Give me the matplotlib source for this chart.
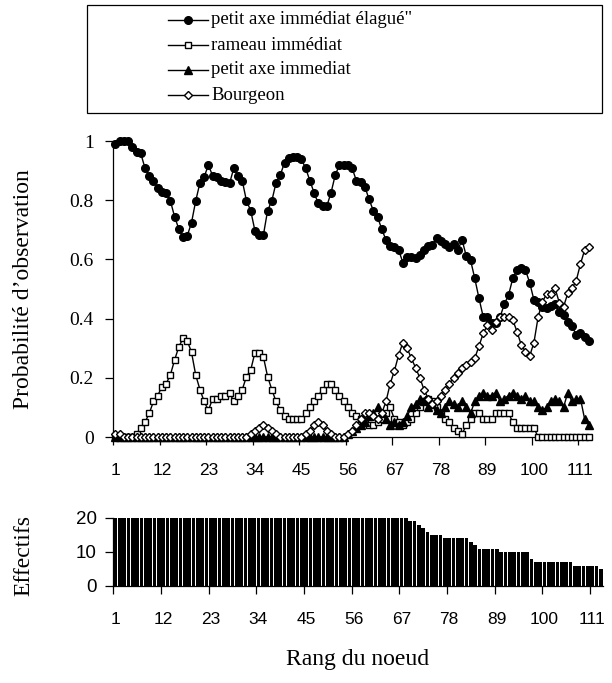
import matplotlib
matplotlib.use("Agg")
import matplotlib.pyplot as plt
from matplotlib.lines import Line2D
from matplotlib.patches import Rectangle

# ---------------- data ----------------
nodes = list(range(1, 114))
tick_labels = ["1", "12", "23", "34", "45", "56", "67", "78", "89", "100", "111"]

elague = [0.99, 1.00, 1.00, 1.00, 0.98, 0.964, 0.958, 0.908, 0.882, 0.866,
          0.840, 0.829, 0.825, 0.798, 0.744, 0.703, 0.675, 0.680, 0.724, 0.798,
          0.859, 0.879, 0.919, 0.882, 0.879, 0.866, 0.862, 0.857, 0.908, 0.882,
          0.866, 0.798, 0.765, 0.697, 0.684, 0.682, 0.765, 0.798, 0.859, 0.885,
          0.927, 0.941, 0.945, 0.947, 0.938, 0.908, 0.866, 0.825, 0.789, 0.780,
          0.780, 0.825, 0.885, 0.919, 0.919, 0.919, 0.908, 0.866, 0.862, 0.846,
          0.803, 0.765, 0.744, 0.702, 0.666, 0.645, 0.641, 0.632, 0.589, 0.609,
          0.607, 0.604, 0.616, 0.632, 0.644, 0.649, 0.671, 0.663, 0.652, 0.643,
          0.652, 0.632, 0.666, 0.611, 0.598, 0.536, 0.469, 0.406, 0.406, 0.384,
          0.386, 0.406, 0.449, 0.480, 0.536, 0.564, 0.570, 0.564, 0.521, 0.463,
          0.457, 0.440, 0.435, 0.443, 0.449, 0.423, 0.412, 0.390, 0.375, 0.345,
          0.350, 0.339, 0.325]

rameau = [0, 0, 0, 0, 0, 0.01, 0.03, 0.05, 0.08, 0.12,
          0.14, 0.17, 0.18, 0.21, 0.26, 0.305, 0.333, 0.325, 0.286, 0.209,
          0.16, 0.12, 0.09, 0.13, 0.13, 0.14, 0.14, 0.15, 0.12, 0.14,
          0.16, 0.204, 0.226, 0.285, 0.285, 0.271, 0.204, 0.16, 0.12, 0.09,
          0.07, 0.06, 0.06, 0.06, 0.06, 0.08, 0.10, 0.12, 0.14, 0.16,
          0.18, 0.18, 0.16, 0.14, 0.12, 0.10, 0.08, 0.07, 0.06, 0.05,
          0.04, 0.04, 0.05, 0.06, 0.08, 0.10, 0.06, 0.05, 0.04, 0.05,
          0.06, 0.08, 0.10, 0.12, 0.13, 0.12, 0.10, 0.08, 0.06, 0.05,
          0.03, 0.02, 0.01, 0.04, 0.06, 0.08, 0.08, 0.06, 0.06, 0.06,
          0.08, 0.08, 0.08, 0.08, 0.05, 0.03, 0.03, 0.03, 0.03, 0.03,
          0, 0, 0, 0, 0, 0, 0, 0, 0, 0,
          0, 0, 0]

petit_axe = [0] * 55 + [
          0.01, 0.02, 0.03, 0.04, 0.05, 0.07, 0.08, 0.10, 0.08, 0.06,
          0.04, 0.05, 0.04, 0.05, 0.07, 0.10, 0.11, 0.13, 0.12, 0.10,
          0.11, 0.09, 0.08, 0.10, 0.12, 0.11, 0.10, 0.12, 0.10, 0.08,
          0.12, 0.14, 0.15, 0.14, 0.14, 0.15, 0.12, 0.13, 0.14, 0.15,
          0.14, 0.13, 0.14, 0.12, 0.12, 0.10, 0.09, 0.10, 0.12, 0.13,
          0.12, 0.10, 0.15, 0.12, 0.13, 0.13, 0.06, 0.04]

bourgeon = [0.01, 0.01] + [0] * 30 + [
          0.01, 0.02, 0.03, 0.04, 0.03, 0.02, 0.01, 0, 0, 0,
          0, 0, 0, 0.01, 0.02, 0.04, 0.05, 0.04, 0.02, 0.01,
          0, 0, 0, 0.01, 0.02, 0.04, 0.06, 0.08, 0.08, 0.07,
          0.06, 0.08, 0.12, 0.18, 0.224, 0.277, 0.319, 0.300, 0.266, 0.234,
          0.20, 0.16, 0.13, 0.11, 0.12, 0.14, 0.16, 0.18, 0.20, 0.217,
          0.232, 0.243, 0.254, 0.266, 0.307, 0.350, 0.378, 0.361, 0.390, 0.404,
          0.406, 0.404, 0.395, 0.356, 0.311, 0.288, 0.274, 0.319, 0.406, 0.457,
          0.483, 0.483, 0.502, 0.454, 0.440, 0.485, 0.502, 0.528, 0.584, 0.632,
          0.641]

effectifs = [20] * 68 + [19, 19, 18, 17, 16, 15, 15, 15] + [14] * 6 + [13, 12] \
            + [11] * 5 + [10] * 7 + [8] + [7] * 9 + [6] * 6 + [5]

series = [
    (elague, "petit axe immédiat élagué\"", dict(marker="o", ms=5.5, mfc="black", mec="black")),
    (rameau, "rameau immédiat", dict(marker="s", ms=4.5, mfc="white", mec="black", mew=1.0)),
    (petit_axe, "petit axe immediat", dict(marker="^", ms=5.5, mfc="black", mec="black")),
    (bourgeon, "Bourgeon", dict(marker="D", ms=4.3, mfc="white", mec="black", mew=1.0)),
]

# ---------------- layout ----------------
W, H = 612, 683
fig = plt.figure(figsize=(W / 100, H / 100), dpi=100)
SERIF = ["Liberation Serif", "DejaVu Serif"]
SANS = ["Liberation Sans", "DejaVu Sans"]


def rect(x0, x1, ytop, ybot):
    return [x0 / W, 1 - ybot / H, (x1 - x0) / W, (ybot - ytop) / H]


ax1 = fig.add_axes(rect(113.3, 591, 141, 437))
ax2 = fig.add_axes(rect(113.3, 603, 518, 586))

n = len(nodes)
major = [0.5 + 11 * k for k in range(11)]
minor = [1 + 11 * k for k in range(11)]

for ax in (ax1, ax2):
    for s in ("top", "right"):
        ax.spines[s].set_visible(False)
    for s in ("left", "bottom"):
        ax.spines[s].set_color("black")
        ax.spines[s].set_linewidth(0.9)
    ax.set_xlim(0.5, n + 0.5)
    ax.set_xticks(major)
    ax.set_xticklabels([])
    ax.set_xticks(minor, minor=True)
    ax.set_xticklabels(tick_labels, minor=True, fontfamily=SANS, fontsize=12.5)
    ax.tick_params(axis="x", which="major", direction="out", length=6, width=0.9)
    ax.tick_params(axis="x", which="minor", length=0, pad=19)
    ax.tick_params(axis="y", direction="out", length=6, width=0.9)

# top chart
for vals, label, st in series:
    ax1.plot(nodes, vals, color="black", lw=1.0, clip_on=False, zorder=3, **st)
ax1.set_ylim(0, 1)
ax1.set_yticks([0, 0.2, 0.4, 0.6, 0.8, 1.0])
ax1.set_yticklabels(["0", "0.2", "0.4", "0.6", "0.8", "1"], fontfamily=SERIF, fontsize=14)
ax1.tick_params(axis="y", pad=8)

# bottom chart
ax2.bar(nodes, effectifs, width=0.86, color="black", edgecolor="none")
ax2.set_ylim(0, 20)
ax2.set_yticks([0, 10, 20])
ax2.set_yticklabels(["0", "10", "20"], fontfamily=SANS, fontsize=13.5)
ax2.tick_params(axis="y", pad=6)

# axis titles
fig.text(24 / W, 1 - 289 / H, "Probabilité d’observation", rotation=90,
         ha="center", va="center", fontfamily=SERIF, fontsize=17)
fig.text(24 / W, 1 - 555 / H, "Effectifs", rotation=90,
         ha="center", va="center", fontfamily=SERIF, fontsize=17)
fig.text(358 / W, 1 - 660 / H, "Rang du noeud", ha="center", va="center",
         fontfamily=SERIF, fontsize=17)

# legend box
box_top, box_bot = 5, 113
fig.patches.append(Rectangle((87 / W, 1 - box_bot / H), (602 - 87) / W, (box_bot - box_top) / H,
                             transform=fig.transFigure, fill=False, edgecolor="black",
                             linewidth=0.9))
ys = [20, 45, 70, 95]
for (vals, label, st), yy in zip(series, ys):
    fig.lines.append(Line2D([168 / W, 208 / W], [1 - yy / H, 1 - yy / H],
                            transform=fig.transFigure, color="black", lw=1.0))
    fig.lines.append(Line2D([188 / W], [1 - yy / H], transform=fig.transFigure,
                            color="black", lw=0, **st))
    fig.text(211 / W, 1 - yy / H, label, ha="left", va="center",
             fontfamily=SERIF, fontsize=13.5)

fig.savefig("out.png", dpi=100)
